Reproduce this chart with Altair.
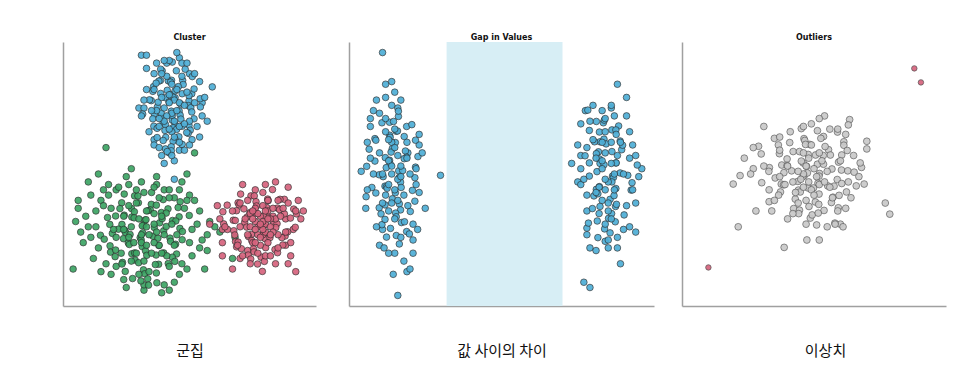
import altair as alt
import pandas as pd

# ---------------- data (axis units 0-100) ----------------
cluster_blue = [[31,95],[33,95],[46,94],[41,92],[33,90],[47,92],[59,83],[36,88],[50,88],[30,75],[32,75],[55,77],[54,64],[51,63],[36,63],[36,61],[39,57],[40,54],[44,55],[42,58],[46,59],[44,48],
[39.2,89.1],[43.2,92.4],[48.3,89.7],[38.6,89.7],[42.9,85.5],[44.8,89.1],[38.5,85.4],[37.9,85.2],[41.6,85.3],[42.5,84.8],[47.3,85.5],[47.5,83.9],[51.1,86.9],[35.8,83.1],[36.8,84.4],[41.2,81.7],[42.6,80.1],[44.3,81.5],[45.6,83.1],[50.9,80.4],[51.8,82.2],[35.5,81.3],[34.9,77.8],[38.6,80.5],[40.5,78.9],[44.3,78.9],[43.5,79.1],[47.1,80.4],[49.8,77.7],[49.8,79.7],[54.2,78.5],[34.2,78.1],[37.3,75.4],[37.6,77.2],[41.9,77.3],[42.8,73.8],[46.5,76.5],[45.9,73.9],[49.6,75.9],[50.5,75.1],[54.3,75.4],[31.5,72.7],[36.1,72.7],[38.8,71.5],[38.8,73.1],[43.2,70.4],[43.2,72.2],[46.3,72.3],[46.6,70.8],[50.9,73.5],[51.8,70.9],[35.5,70.9],[35.9,68.1],[39.6,69.4],[40.5,68.7],[44.3,68.7],[43.5,67.5],[47.1,68.1],[49.8,68.4],[50.3,66.6],[37.2,67.3],[37.2,63.8],[40.3,66.5],[40.6,63.9],[44.9,66.9],[45.8,64.1],[49.5,65.4],[48.9,65.7],[39.6,62.7],[40.5,59.5],[44.3,63.1],[43.5,62.4],[47.1,61.2],[42.8,60.3],[42.8,58.8],[41.2,58.5],
[42,80],[44,78],[40,75],[46,77],[43,73],[41,72],[45,74],[39,79],[48,76],[42,77],[44,70],[40,70],[46,68],[43,66],[38,71],[50,70],[37,74],[49,81],[45,82],[41,87],[43,84],[47,87],[39,88],[36,82],[52,77],[48,69],[42,67],[44,64],[46,62],[38,68],[53,68],[55,72],[56,79],[35,74],[32,78],[31,72],[54,85],[37,92],[42,93],[45,96],[49,92],[52,88],[34,66],[48,59],[50,61],[43,57],[38,60],[57,70],[33,82],[40,93]]

cluster_green = [[17,60],[52,58],[10,47],[14,50],[27,52],[25,49],[37,49],[49,50],[47,47],[6,40],[6,37],[5,32],[10,30],[13,36],[11,26],[12,18],[4,14],[17,16],[21,15],[24,10],[32,6],[39,5],[42,6],[32,8],[57,21],[58,32],[54,36],[51,29],[51,19],[68,26],[67,18],[18,46],[16,44],[21,44],[18,42],[37,46],[40,44],[42,44],[46,44],[50,42],[52,40],[49,40],
[23.2,39.1],[24.2,42.4],[28.3,41.7],[29.6,41.7],[34.9,38.5],[29.8,39.1],[34.5,36.4],[36.9,38.2],[39.6,40.3],[41.5,36.8],[46.3,39.5],[22.5,36.9],[27.1,36.9],[20.8,34.1],[24.2,34.4],[27.2,33.7],[28.2,35.7],[32.3,32.5],[33.6,36.1],[38.9,35.4],[40.8,35.2],[45.5,37.3],[45.9,33.8],[17.6,33.5],[18.5,30.9],[23.3,30.9],[24.5,28.6],[28.1,33.4],[31.8,30.7],[32.8,32.7],[38.2,31.5],[39.2,33.1],[43.3,32.4],[44.6,32.2],[49.9,34.3],[14.8,26.8],[19.5,27.5],[21.9,29.1],[24.6,27.9],[26.5,27.1],[31.3,30.4],[31.5,27.7],[36.1,29.7],[39.8,28.5],[40.8,30.1],[46.2,29.4],[47.2,28.2],[16.3,25.3],[18.6,22.8],[23.9,25.5],[25.8,23.9],[30.5,25.9],[30.9,25.1],[35.6,26.4],[37.5,25.7],[42.3,25.7],[42.5,24.5],[47.1,25.1],[18.8,20.4],[20.8,21.2],[26.2,23.3],[27.2,19.8],[31.3,22.5],[32.6,20.9],[37.9,22.9],[39.8,20.1],[44.5,23.4],[44.9,19.7],[20.6,18.7],[23.5,16.5],[28.3,20.1],[28.5,17.4],[33.1,19.2],[36.8,19.3],[37.8,15.8],[43.2,18.5],[44.2,16.9],[23.3,15.9],[24.6,13.1],[29.9,16.4],[31.8,13.7],[36.5,15.7],[36.9,12.5],[41.6,16.1],[27.5,10.4],[32.3,12.2],[33.5,10.3],[37.1,8.8],[30.8,9.5],[33.8,7.9],
[33,30],[36,31],[34,27],[31,24],[38,23],[35,20],[32,17],[29,20],[40,27],[37,28],[30,33],[27,30],[41,19],[36,24],[33,23],[39,34],[43,31],[26,26],[24,29],[44,23],[42,15],[34,13],[30,12],[27,17],[21,26],[19,37],[14,22],[9,34],[8,24],[13,30],[15,40],[11,42],[22,45],[26,46],[31,47],[35,43],[44,41],[48,37],[53,31],[55,25],[50,24],[49,14],[46,12],[44,9],[40,8],[25,7],[19,12],[15,13],[29,39],[32,43],[38,41],[24,34],[20,29],[45,27],[47,16],[36,35],[33,36],[39,20],[28,24],[23,20],[31,27],[26,38],[42,41],[7,28],[60,30],[62,28],[57,27],[54,22],[56,14],[36,45],[16,38],[29,44]]

cluster_red = [[71,46],[76,44],[80,46],[84,47],[89,45],[93,40],[95,36],[61,38],[58,31],[63,29],[65,29],[63,24],[63,19],[67,14],[70,18],[73,21],[84,16],[89,16],[92,13],[90,19],[88,23],[91,29],[88,33],
[69.2,39.1],[70.2,42.4],[74.3,41.7],[75.6,41.7],[80.9,40.5],[82.8,44.1],[87.5,40.4],[64.9,38.2],[69.6,38.3],[71.5,36.8],[76.3,39.5],[76.5,37.9],[81.1,39.9],[84.8,37.1],[85.8,40.4],[91.2,36.7],[63.2,35.7],[67.3,32.5],[68.6,36.1],[73.9,35.4],[75.8,35.2],[80.5,37.3],[80.9,33.8],[85.6,36.5],[87.5,34.9],[92.3,34.9],[63.5,31.1],[68.1,32.4],[71.8,31.7],[72.8,33.7],[78.2,30.5],[79.2,34.1],[83.3,31.4],[84.6,31.2],[89.9,33.3],[91.8,29.8],[67.5,28.5],[67.9,26.9],[72.6,29.9],[74.5,27.1],[79.3,30.4],[79.5,27.7],[84.1,29.7],[87.8,26.5],[88.8,28.1],[68.2,24.4],[69.2,24.2],[73.3,26.3],[74.6,24.8],[79.9,25.5],[81.8,25.9],[86.5,25.9],[86.9,23.1],[68.6,22.4],[70.5,21.7],[75.3,21.7],[75.5,20.5],[80.1,22.1],[83.8,21.4],[84.8,20.2],[73.2,19.3],[74.2,17.8],[78.3,18.5],[79.6,16.9],[76.9,15.9],[78.8,13.1],
[78,34],[80,31],[77,30],[79,27],[81,24],[76,32],[82,30],[74,30],[79,38],[76,37],[81,36],[83,34],[78,23],[80,19],[75,24],[73,27],[77,27],[84,33],[86,34],[74,35],[72,33],[70,30],[85,27],[82,33],[79,32],[77,35],[80,28],[78,26],[83,28],[76,29],[75,33],[81,40],[79,43],[73,40],[70,39],[87,37],[89,39],[85,40],[92,36],[94,33],[67,36],[64,30],[62,33],[69,23],[71,19],[74,16],[82,19],[85,22],[88,28],[90,24],[77,20],[83,37],[79,29],[81,33],[78,31],[80,36],[75,36],[82,27],[76,24]]

gap_left = [[11,96],[12,84],[15,81],[9,78],[16,75],[7,71],[7,68],[23,65],[23,61],[4,51],[5.5,37],[25,37],[23,43],[30,49.5],[10,23],[11.5,22],[16.5,23.5],[21,25],[15,20],[21,20],[19,13],[20,14],[14.5,12],[16,4],[11,29],[22.5,29],
[16.2,71.8],[16.2,73.8],[13.3,69.6],[14.6,69.9],[18.9,68.0],[10.8,69.4],[15.5,66.2],[15.9,66.3],[20.6,68.7],[8.5,63.4],[13.3,64.7],[13.5,63.9],[18.1,64.2],[21.8,62.8],[8.8,62.8],[14.2,59.6],[15.2,61.9],[19.3,58.0],[6.6,59.4],[11.9,56.2],[13.8,58.3],[18.5,58.7],[18.9,56.4],[22.6,56.6],[8.5,54.9],[13.3,55.2],[13.5,53.8],[18.1,55.8],[21.8,52.6],[5.8,52.9],[11.2,49.0],[12.2,52.4],[16.3,51.2],[17.6,51.3],[9.9,49.7],[11.8,45.4],[16.5,48.7],[16.9,46.9],[21.6,48.6],[7.5,44.9],[12.3,45.2],[12.5,44.6],[17.1,44.9],[20.8,43.8],[8.8,42.8],[14.2,40.6],[15.2,42.9],[19.3,38.0],[5.6,41.4],[9.9,37.2],[11.8,38.3],[16.5,38.7],[16.9,36.4],[21.6,39.7],[10.5,34.9],[15.3,35.2],[15.5,33.8],[20.1,35.8],[10.8,30.8],[11.8,32.8],[17.2,31.6],[18.2,31.9],[12.3,26.1],[13.6,29.4],[18.9,28.2],[19.8,27.3],[15.5,26.7],
[14,50],[13,46],[15,44],[16,40],[14,39],[12,42],[13,55],[16,57],[14,62],[12,66],[15,60],[17,53],[11,50],[16,48],[14,53],[13,36],[15,33],[11,39],[18,42],[17,49],[10,58],[19,56],[12,71],[14,76],[17,78],[6,62],[8,50],[20,50],[22,46],[6,44],[22,52],[24,58],[9,30],[21,31],[17,26],[13,20],[18,17],[8,74],[10,73],[14,85],[12,79],[19,62],[7,56],[15,67],[13,63]]

gap_right = [[88,84],[91,79],[77.5,74],[86,75],[91,72],[76,69],[75,61],[73,54],[76,57],[94,57],[96,52],[95,49],[75,47],[76,46],[78,42],[78,36],[78,29.5],[78,27],[79,22],[81,21],[85,22],[88,22],[89,16],[92,30],[94,28],[90,29],[77,9],[79,7],[84,24.5],
[78.3,74.2],[83.4,69.4],[83.7,70.4],[88.4,68.2],[81.1,69.9],[82.1,65.9],[86.2,66.7],[87.5,66.7],[78.8,66.5],[82.3,62.2],[83.6,63.2],[87.6,65.0],[88.9,62.5],[80.5,62.2],[81.8,58.4],[84.3,61.4],[89.4,59.2],[89.7,60.9],[77.4,56.9],[81.1,57.7],[82.1,55.7],[86.2,58.5],[87.5,54.2],[78.8,54.2],[82.3,54.0],[83.6,53.5],[87.6,54.2],[88.9,50.4],[94.5,53.4],[78.8,49.2],[81.3,50.9],[86.4,49.2],[86.7,48.7],[91.4,49.5],[81.1,44.2],[82.1,45.2],[86.2,47.0],[87.5,44.5],[92.8,46.7],[80.3,41.7],[81.6,42.5],[85.6,40.4],[86.9,41.8],[92.5,43.9],[79.8,36.9],[82.3,37.7],[87.4,37.7],[87.7,38.5],[81.4,32.2],[85.1,33.2],[86.1,35.0],[90.2,34.5],[78.5,31.4],[83.8,29.2],[87.3,31.9],[81.6,25.9],[85.6,27.7],
[84,58],[83,52],[85,47],[84,44],[83,40],[85,36],[84,31],[83,62],[86,54],[82,45],[87,50],[81,56],[86,62],[84,66],[82,35],[85,39],[84,48],[83,55],[87,44],[81,43],[86,33],[88,57],[80,63],[89,62],[84,71],[87,72],[92,66],[93,61],[76,52],[93,44],[94,39],[77,48],[78,60],[79,70],[85,25],[88,26],[91,38],[86,76],[83,74],[80,76],[90,50],[92,56]]

gap_band = [[32, 70]]

outlier_main = [[54,72],[63.5,70.6],[63,68.6],[49,69],[31,68],[35,63.5],[37,64],[70,62.4],[70,59.5],[29,60.5],[30,57.6],[23.6,56],[27,52],[22,49.4],[19.4,46.2],[28,36],[34,36],[21.3,30],[38.7,22.2],[47.3,25],[52,25],[51,30.7],[60,31],[77,39],[78.7,34.8],[69,46.2],[68,52.5],[66,45.5],[64,41],[48.6,33.3],[33,39.5],
[45.2,67.2],[46.2,63.4],[51.3,66.4],[53.6,64.2],[58.9,65.9],[40.8,61.9],[46.5,62.7],[48.4,61.2],[52.6,63.5],[55.5,59.2],[61.3,62.2],[36.5,61.0],[42.1,58.5],[46.8,61.2],[47.8,57.4],[54.2,60.4],[56.2,57.2],[61.3,60.9],[62.6,58.9],[36.9,57.7],[39.8,55.7],[44.5,58.5],[45.9,54.2],[50.6,57.2],[53.5,57.0],[59.3,54.5],[60.5,57.2],[33.1,52.4],[37.8,53.4],[39.8,53.2],[45.2,54.9],[47.2,52.9],[51.3,53.7],[53.6,53.7],[60.4,51.5],[62.8,51.2],[67.5,54.2],[32.9,51.0],[38.6,50.5],[41.5,51.2],[46.3,49.4],[47.5,50.4],[52.1,50.2],[56.8,51.9],[58.8,47.9],[65.2,50.7],[30.2,46.7],[35.3,48.5],[37.6,46.2],[43.9,47.2],[45.8,49.0],[51.5,46.5],[51.9,49.2],[57.6,45.4],[60.5,46.4],[37.3,43.2],[38.5,45.9],[44.1,43.9],[47.8,44.7],[49.8,44.7],[55.2,45.5],[57.2,41.2],[62.3,43.2],[36.6,42.0],[42.9,40.5],[44.8,43.2],[50.5,39.4],[51.9,42.4],[56.6,39.2],[59.5,41.9],[42.3,36.9],[44.5,36.3],[48.1,37.7],[51.8,38.5],[53.8,36.2],[59.2,37.2],[44.2,35.0],[49.3,34.5],[51.6,35.2],[57.9,31.4],
[46,50],[48,47],[50,52],[47,53],[45,48],[49,44],[51,49],[44,51],[48,56],[46,45],[52,46],[50,42],[47,40],[43,43],[53,55],[42,47],[55,51],[40,53],[46,58],[49,61],[52,58],[39,46],[37,49],[54,47],[56,45],[57,41],[59,36],[62,37],[44,39],[42,35],[47,31],[40,33],[55,30],[58,31],[61,30],[26,50],[31,53],[33,44],[35,40],[41,66],[46,68],[52,71],[56,67],[59,67],[62,65],[65,57],[67,49],[63,47],[60,55],[37,59],[27,60]]

outlier_points = [[88,90],[90.5,84.7],[10,14.6]]

titles = ["Cluster", "Gap in Values", "Outliers"]
labels = ["군집", "값 사이의 차이", "이상치"]

BLUE = "#4eaed6"
GREEN = "#3ca464"
RED = "#d6637d"
GRAY = "#c9c9c9"
BAND = "#d7eef5"
AXIS = "#a0a0a0"


def frame(pairs):
    return pd.DataFrame({"x": [p[0] for p in pairs], "y": [p[1] for p in pairs]})


XS = alt.Scale(domain=[0, 100], nice=False, zero=False)
YS = alt.Scale(domain=[0, 100], nice=False, zero=False)


def xaxis(label, title_x):
    return alt.Axis(title=label, labels=False, ticks=False, grid=False,
                    domainColor=AXIS, domainWidth=1.5,
                    titleFont="Noto Sans CJK KR", titleFontSize=15,
                    titleFontWeight="normal", titleColor="#111",
                    titlePadding=37, titleX=title_x)


def yaxis():
    return alt.Axis(title=None, labels=False, ticks=False, grid=False,
                    domainColor=AXIS, domainWidth=1.5)


def scatter(pairs, color, label, title_x, size=44, stroke="#2a2a2a"):
    return alt.Chart(frame(pairs)).mark_circle(
        size=size, color=color, opacity=0.92, stroke=stroke, strokeWidth=0.7
    ).encode(
        x=alt.X("x:Q", scale=XS, axis=xaxis(label, title_x)),
        y=alt.Y("y:Q", scale=YS, axis=yaxis()),
    )


def title(t):
    return alt.TitleParams(t, font="DejaVu Sans", fontSize=8, fontWeight="bold",
                           color="#111", offset=0, anchor="middle")


W1, W2, W3, H = 253, 305, 264, 264

p1 = alt.layer(
    scatter(cluster_green, GREEN, labels[0], W1 / 2),
    scatter(cluster_red, RED, labels[0], W1 / 2),
    scatter(cluster_blue, BLUE, labels[0], W1 / 2),
).properties(width=W1, height=H, title=title(titles[0]))

band_df = pd.DataFrame({"x": [b[0] for b in gap_band], "x2": [b[1] for b in gap_band],
                        "y": [0], "y2": [100]})
band = alt.Chart(band_df).mark_rect(color=BAND).encode(
    x=alt.X("x:Q", scale=XS, axis=xaxis(labels[1], W2 / 2)),
    x2="x2:Q",
    y=alt.Y("y:Q", scale=YS, axis=yaxis()),
    y2="y2:Q",
)
p2 = alt.layer(
    band,
    scatter(gap_left, BLUE, labels[1], W2 / 2),
    scatter(gap_right, BLUE, labels[1], W2 / 2),
).properties(width=W2, height=H, title=title(titles[1]))

p3 = alt.layer(
    scatter(outlier_main, GRAY, labels[2], 143, size=46, stroke="#555"),
    scatter(outlier_points, RED, labels[2], 143, size=30, stroke="#444"),
).properties(width=W3, height=H, title=title(titles[2]))

chart = alt.hconcat(alt.hconcat(p1, p2, spacing=33), p3, spacing=28).properties(
    padding={"left": 55, "top": 26, "right": 5, "bottom": 5}
).configure_view(stroke=None)

chart.save("out.html", embed_options={"renderer": "svg", "actions": False})
